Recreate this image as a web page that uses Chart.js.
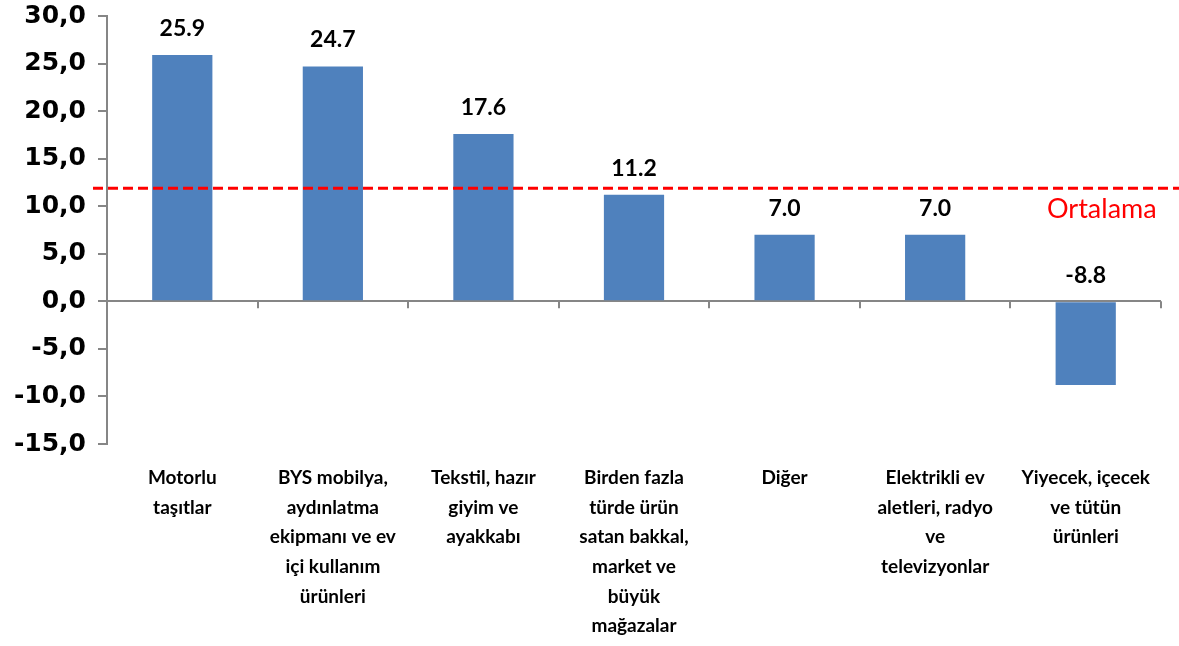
<!DOCTYPE html>
<html>
<head>
<meta charset="utf-8">
<script src="https://cdn.jsdelivr.net/npm/chart.js@4"></script>
<style>
  html, body { margin: 0; padding: 0; background: #fff; }
  #kutu { width: 1179px; height: 646px; }
</style>
</head>
<body>
<div id="kutu"><canvas id="grafik"></canvas></div>
<script>
// kategoriler (satir satir)
var kategoriler = [
    ["Motorlu", "taşıtlar"],
    ["BYS mobilya,", "aydınlatma", "ekipmanı ve ev", "içi kullanım", "ürünleri"],
    ["Tekstil, hazır", "giyim ve", "ayakkabı"],
    ["Birden fazla", "türde ürün", "satan bakkal,", "market ve", "büyük", "mağazalar"],
    ["Diğer"],
    ["Elektrikli ev", "aletleri, radyo", "ve", "televizyonlar"],
    ["Yiyecek, içecek", "ve tütün", "ürünleri"]
];
var degerler = [25.9, 24.7, 17.6, 11.2, 7.0, 7.0, -8.8];
var ortalama = 11.9;
var ortalamaEtiket = "Ortalama";
var yEksenMin = -15, yEksenMax = 30, yAdim = 5;

var yaziTipi = "Lato, 'Open Sans', sans-serif";

// sifir cizgisi tikleri, ortalama cizgisi ve deger etiketleri
var ekstraCizim = {
    id: 'ekstraCizim',
    afterDatasetsDraw: function(chart) {
        var ctx = chart.ctx;
        var x = chart.scales.x, y = chart.scales.y;
        var alan = chart.chartArea;
        var y0 = y.getPixelForValue(0);

        ctx.save();
        // kategori sinir tikleri
        ctx.strokeStyle = '#868686';
        ctx.lineWidth = 2;
        for (var i = 1; i <= degerler.length; i++) {
            var px;
            if (i == degerler.length) px = alan.right;
            else px = (x.getPixelForValue(i - 1) + x.getPixelForValue(i)) / 2;
            ctx.beginPath();
            ctx.moveTo(Math.round(px), y0);
            ctx.lineTo(Math.round(px), y0 + 7);
            ctx.stroke();
        }

        // deger etiketleri
        var meta = chart.getDatasetMeta(0);
        ctx.fillStyle = '#000';
        ctx.font = 'bold 23px ' + yaziTipi;
        ctx.textAlign = 'center';
        ctx.textBaseline = 'alphabetic';
        meta.data.forEach(function(bar, j) {
            var ust = Math.min(bar.y, bar.base);
            ctx.fillText(degerler[j].toFixed(1), bar.x, ust - 19);
        });

        // ortalama cizgisi
        var yo = y.getPixelForValue(ortalama);
        ctx.strokeStyle = '#FF0000';
        ctx.lineWidth = 3;
        ctx.setLineDash([10, 5]);
        ctx.beginPath();
        ctx.moveTo(alan.left - 14, yo);
        ctx.lineTo(chart.width, yo);
        ctx.stroke();
        ctx.setLineDash([]);

        ctx.fillStyle = '#FF0000';
        ctx.font = '27px ' + yaziTipi;
        ctx.textAlign = 'left';
        ctx.textBaseline = 'middle';
        ctx.fillText(ortalamaEtiket, 1047, yo + 21);
        ctx.restore();
    }
};

var chart = new Chart(document.getElementById('grafik').getContext('2d'), {
    type: 'bar',
    data: {
        labels: kategoriler,
        datasets: [{
            data: degerler,
            backgroundColor: '#4F81BD',
            barPercentage: 0.4,
            categoryPercentage: 1.0
        }]
    },
    options: {
        responsive: true,
        maintainAspectRatio: false,
        animation: false,
        layout: { padding: { top: 0, right: 18, left: 0, bottom: 0 } },
        plugins: {
            legend: { display: false },
            tooltip: { enabled: false }
        },
        scales: {
            x: {
                grid: { display: false, drawTicks: false },
                border: { display: false },
                afterFit: function(s) { s.height = 202; },
                ticks: {
                    color: '#000',
                    font: { family: yaziTipi, size: 19, weight: 'bold', lineHeight: 1.56 },
                    padding: 19,
                    maxRotation: 0,
                    autoSkip: false
                }
            },
            y: {
                min: yEksenMin,
                max: yEksenMax,
                afterFit: function(s) { s.width = 107; s.paddingTop = 16; s.paddingBottom = 0; },
                border: { display: true, color: '#868686', width: 2 },
                grid: {
                    drawOnChartArea: true,
                    color: function(c) { return c.tick && c.tick.value === 0 ? '#868686' : 'rgba(0,0,0,0)'; },
                    lineWidth: 2,
                    tickColor: '#868686',
                    tickLength: 9,
                    tickWidth: 2
                },
                ticks: {
                    stepSize: yAdim,
                    color: '#000',
                    padding: 12,
                    font: { family: "'DejaVu Sans', sans-serif", size: 25, weight: 'bold' },
                    callback: function(v) { return v.toFixed(1).replace('.', ','); }
                }
            }
        }
    },
    plugins: [ekstraCizim]
});
</script>
</body>
</html>
